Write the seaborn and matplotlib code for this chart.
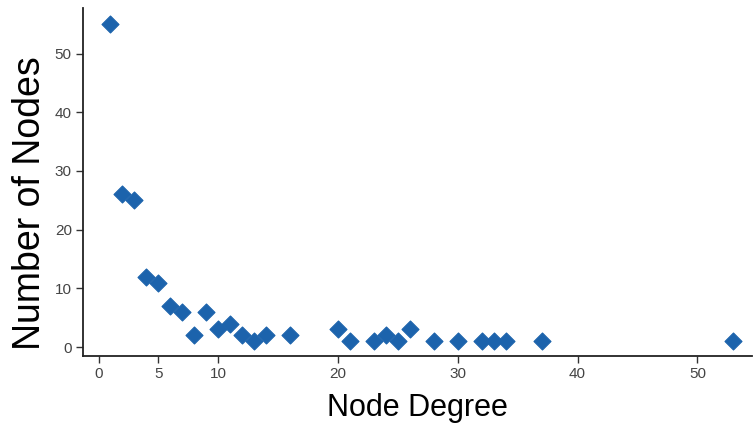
import pandas as pd
import matplotlib
matplotlib.use('Agg')
import matplotlib.pyplot as plt
import seaborn as sns

# Degree distribution values
node_degree = [1, 2, 3, 4, 5, 6, 7, 8, 9, 10, 11, 12, 13, 14, 16,
               20, 21, 23, 24, 25, 26, 28, 30, 32, 33, 34, 37, 53]
node_count = [55, 26, 25, 12, 11, 7, 6, 2, 6, 3, 4, 2, 1, 2, 2,
              3, 1, 1, 2, 1, 3, 1, 1, 1, 1, 1, 1, 1]
x_ticks = [0, 5, 10, 20, 30, 40, 50]
y_ticks = [0, 10, 20, 30, 40, 50]

data = pd.DataFrame({'Node Degree': node_degree, 'Number of Nodes': node_count})

sns.set_style('ticks')
plt.rcParams['font.family'] = ['Liberation Sans', 'DejaVu Sans']

fig = plt.figure(figsize=(7.54, 4.34), dpi=100)
ax = fig.add_axes([0.110, 0.180, 0.888, 0.802])

sns.scatterplot(x='Node Degree', y='Number of Nodes', data=data, ax=ax,
                marker='D', s=75, color='#1c63ac', edgecolor='#1c63ac', linewidth=0.8)

ax.set_xlim(-1.3, 54.6)
ax.set_ylim(-1.5, 57.8)
ax.set_xticks(x_ticks)
ax.set_yticks(y_ticks)
ax.tick_params(axis='both', labelsize=11, colors='#333333', labelcolor='#444444',
               length=5, width=1, pad=3)

for side in ['top', 'right']:
    ax.spines[side].set_visible(False)
for side in ['left', 'bottom']:
    ax.spines[side].set_linewidth(1.3)
    ax.spines[side].set_color('#222222')

ax.set_xlabel('Node Degree', fontsize=22, color='black')
ax.set_ylabel('Number of Nodes', fontsize=27, color='black')
ax.xaxis.set_label_coords(0.5, -0.108)
ax.yaxis.set_label_coords(-0.052, 0.44)

fig.savefig('out.png', dpi=100)
